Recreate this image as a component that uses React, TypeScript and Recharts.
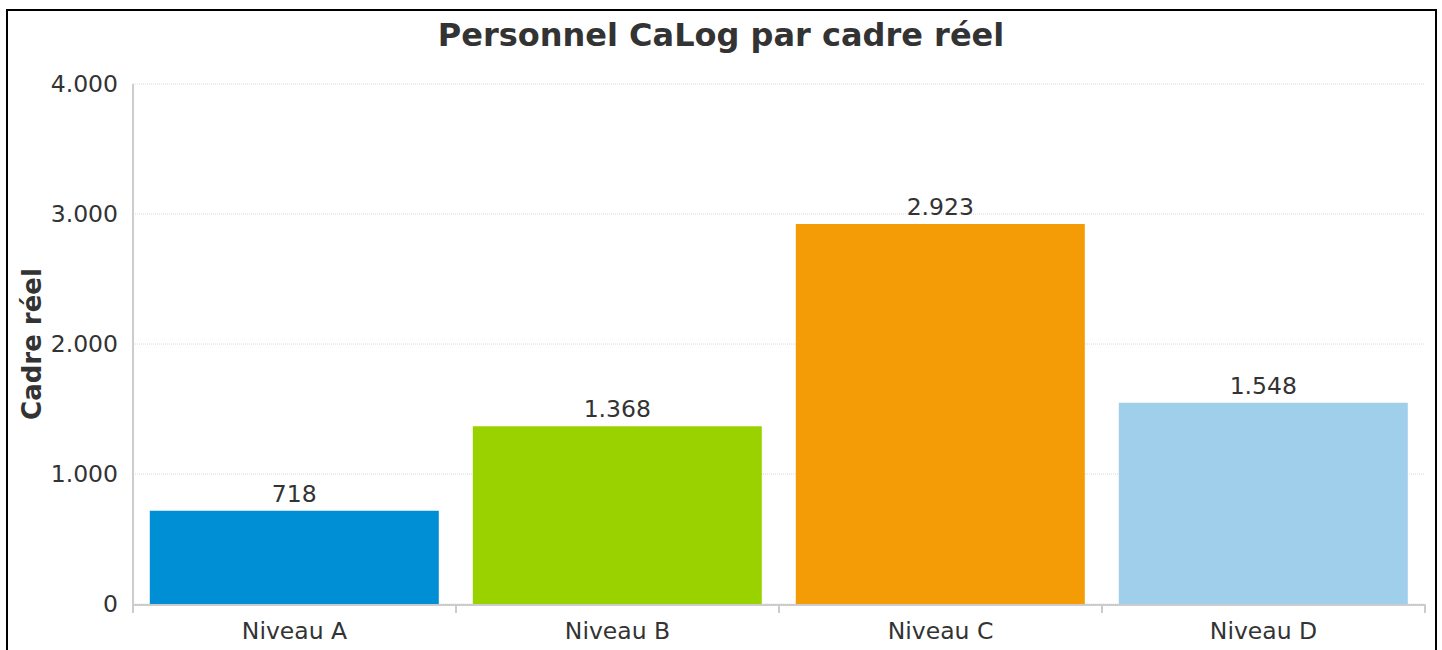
import React from 'react';
import { BarChart, Bar, XAxis, YAxis, CartesianGrid, LabelList, Cell } from 'recharts';

const categories = ['Niveau A', 'Niveau B', 'Niveau C', 'Niveau D'];
const values = [718, 1368, 2923, 1548];
const colors = ['#008fd5', '#9ad200', '#f39c06', '#a0cfec'];
const yTicks = [0, 1000, 2000, 3000, 4000];
const bandTicks = [0, 1, 2, 3, 4];

const FONT = '"DejaVu Sans", sans-serif';

// thousands separator with a dot
const fmt = (v: number) => String(v).replace(/\B(?=(\d{3})+(?!\d))/g, '.');

export default function App() {
  // edge = right boundary of each category band, used only for the boundary tick marks
  const data = categories.map((name, i) => ({ name, value: values[i], edge: i + 1 }));

  return (
    <div style={{ position: 'absolute', left: 0, top: 0, width: 1442, height: 650, overflow: 'hidden', background: '#fff', fontFamily: FONT }}>
      <div style={{ position: 'absolute', left: 6, top: 9, width: 1427, height: 700, borderTop: '2px solid #000', borderLeft: '2px solid #000', borderRight: '2px solid #000' }} />
      <div style={{ position: 'absolute', left: 0, top: 16, width: 1442, textAlign: 'center', fontSize: 32, fontWeight: 'bold', color: '#333', lineHeight: '38px' }}>
        Personnel CaLog par cadre réel
      </div>
      <div style={{ position: 'absolute', left: 0, top: 0 }}>
        <BarChart width={1442} height={650} data={data} margin={{ top: 84, right: 17, bottom: 0, left: 0 }} barCategoryGap="5.2%">
          <CartesianGrid xAxisId="z_main" vertical={false} stroke="#d8d8d8" strokeDasharray="1 1" />
          {/* tick marks on the category boundaries */}
          <XAxis
            xAxisId="a_band"
            type="number"
            dataKey="edge"
            domain={[0, bandTicks.length - 1]}
            allowDataOverflow
            ticks={bandTicks}
            axisLine={false}
            tickLine={{ stroke: '#cccccc', strokeWidth: 2 }}
            tickSize={9}
            tick={() => <g />}
            height={1}
            orientation="bottom"
          />
          <XAxis
            xAxisId="z_main"
            dataKey="name"
            axisLine={{ stroke: '#cccccc', strokeWidth: 2 }}
            tickLine={false}
            height={45}
            tick={{ fill: '#333', fontSize: 23.5, fontFamily: FONT }}
            dy={9}
          />
          <YAxis
            width={133}
            domain={[0, 4000]}
            ticks={yTicks}
            tickFormatter={fmt}
            axisLine={{ stroke: '#cccccc', strokeWidth: 2 }}
            tickLine={false}
            tickMargin={9}
            tick={{ fill: '#333', fontSize: 23.5, fontFamily: FONT }}
            label={{ value: 'Cadre réel', angle: -90, position: 'insideLeft', dx: 27, style: { fill: '#333', fontSize: 26, fontWeight: 'bold', fontFamily: FONT, textAnchor: 'middle' } }}
          />
          <Bar xAxisId="z_main" dataKey="value" isAnimationActive={false}>
            {data.map((d, i) => (
              <Cell key={d.name} fill={colors[i]} />
            ))}
            <LabelList dataKey="value" position="top" offset={9} formatter={(v: any) => fmt(Number(v))} style={{ fill: '#333', fontSize: 23.5, fontFamily: FONT }} />
          </Bar>
        </BarChart>
      </div>
    </div>
  );
}
